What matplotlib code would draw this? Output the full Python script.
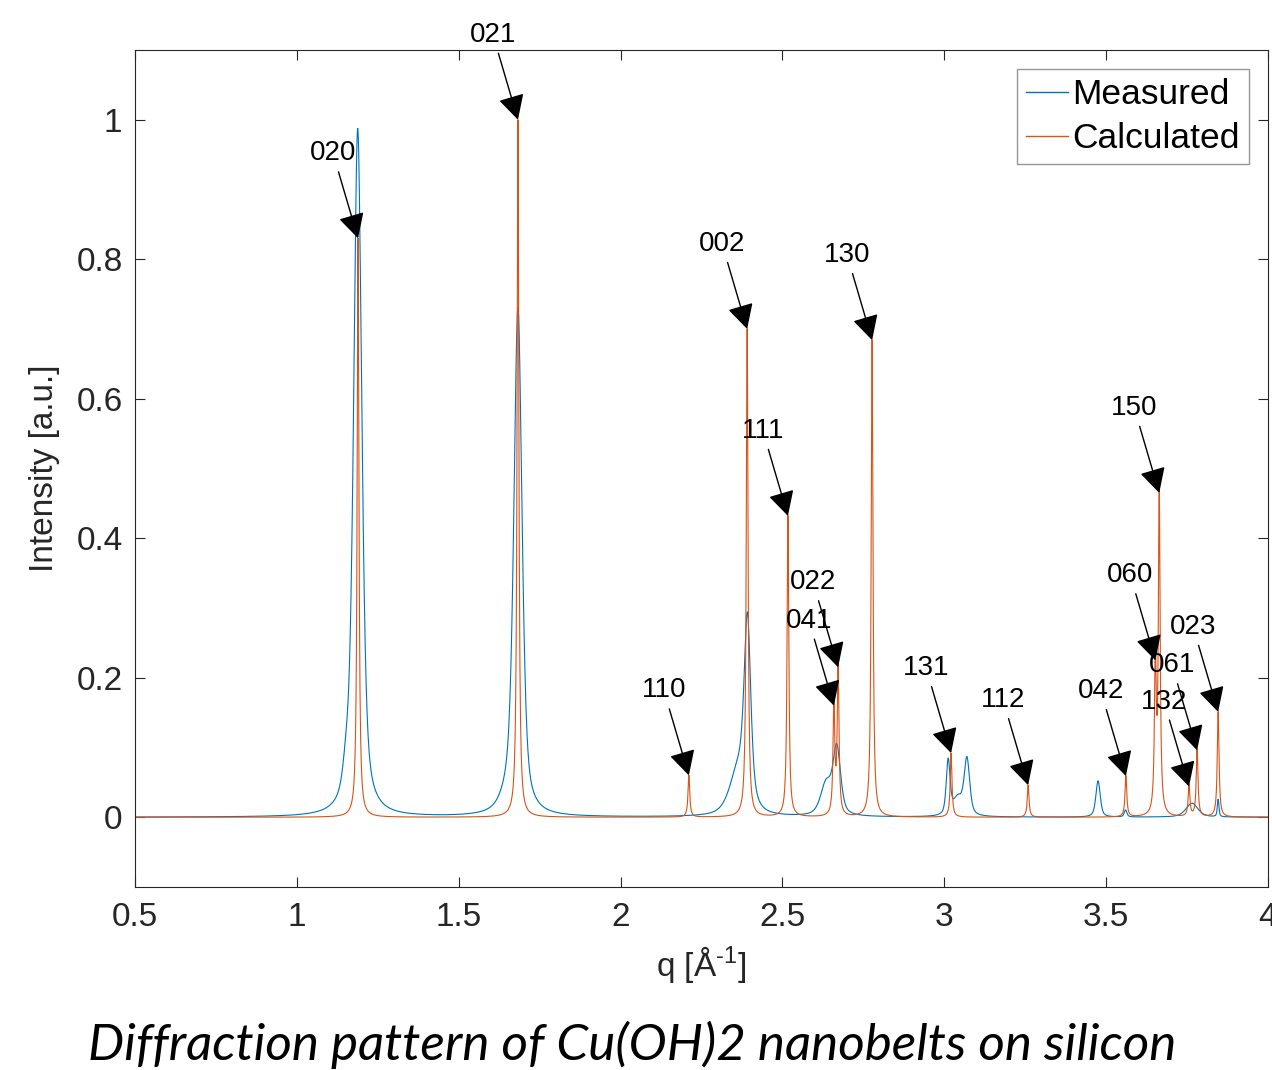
import numpy as np
import matplotlib
matplotlib.use('Agg')
import matplotlib.pyplot as plt

# ---------------- data ----------------
# calculated reflections: Miller indices, position q [1/A], relative intensity
hkl    = ['020', '021', '110', '002', '111', '041', '022', '130',
          '131', '112', '042', '060', '150', '132', '061', '023']
calc_q = [1.189, 1.683, 2.211, 2.391, 2.517, 2.659, 2.672, 2.777,
          3.021, 3.259, 3.561, 3.652, 3.664, 3.756, 3.781, 3.846]
calc_I = [0.83, 1.00, 0.060, 0.700, 0.432, 0.160, 0.215, 0.684,
          0.092, 0.046, 0.059, 0.225, 0.465, 0.044, 0.096, 0.151]
calc_hwhm = 0.0032

# measured pattern: peak position, height, half width
meas_q = [1.152, 1.188, 1.650, 1.683, 2.365, 2.392, 2.635, 2.668,
          3.012, 3.042, 3.070, 3.475, 3.560, 3.765, 3.846]
meas_I = [0.035, 0.985, 0.015, 0.725, 0.065, 0.255, 0.045, 0.095,
          0.078, 0.025, 0.080, 0.052, 0.010, 0.020, 0.025]
meas_w = [0.012, 0.015, 0.025, 0.015, 0.032, 0.012, 0.020, 0.014,
          0.007, 0.018, 0.010, 0.008, 0.005, 0.022, 0.003]

xticks = [0.5, 1, 1.5, 2, 2.5, 3, 3.5, 4]
xtick_labels = ['0.5', '1', '1.5', '2', '2.5', '3', '3.5', '4']
yticks = [0, 0.2, 0.4, 0.6, 0.8, 1]
ytick_labels = ['0', '0.2', '0.4', '0.6', '0.8', '1']

# ---------------- profiles ----------------
q = np.linspace(0.5, 4.0, 3501)

def lorentz(x, x0, h, w):
    return h / (1.0 + ((x - x0) / w) ** 2)

def pvoigt(x, x0, h, w, eta=0.55):
    g = np.exp(-np.log(2) * ((x - x0) / w) ** 2)
    return h * (eta / (1.0 + ((x - x0) / w) ** 2) + (1 - eta) * g)

calc = np.zeros_like(q)
for x0, h in zip(calc_q, calc_I):
    calc += lorentz(q, x0, h, calc_hwhm)

meas = np.zeros_like(q)
for x0, h, w in zip(meas_q, meas_I, meas_w):
    meas += pvoigt(q, x0, h, w)

# ---------------- figure ----------------
W, H = 1272, 1070
fig = plt.figure(figsize=(W / 100, H / 100), dpi=100)
plt.rcParams['font.family'] = ['Liberation Sans', 'DejaVu Sans']
plt.rcParams['mathtext.fontset'] = 'custom'
plt.rcParams['mathtext.rm'] = 'Liberation Sans'

ax = fig.add_axes([135 / W, (H - 887) / H, (1268 - 135) / W, (887 - 50) / H])

blue = '#0072BD'
orange = '#D95319'
ax.plot(q, meas, color=blue, lw=0.8, label='Measured')
ax.plot(q, calc, color=orange, lw=0.8, label='Calculated')

ax.set_xlim(0.5, 4)
ax.set_ylim(-0.1, 1.1)
ax.set_xticks(xticks)
ax.set_xticklabels(xtick_labels)
ax.set_yticks(yticks)
ax.set_yticklabels(ytick_labels)

dark = '#262626'
for s in ax.spines.values():
    s.set_color(dark)
    s.set_linewidth(0.8)
ax.tick_params(direction='in', length=7, width=0.8, color=dark,
               labelsize=24, labelcolor=dark, top=True, right=True)
ax.tick_params(axis='x', pad=11)
ax.tick_params(axis='y', pad=9)

ax.set_xlabel('q [Å$^{\\text{-1}}$]', fontsize=24, color=dark, labelpad=8)
ax.set_ylabel('Intensity [a.u.]', fontsize=24, color=dark, labelpad=12)

for lab, x0, h in zip(hkl, calc_q, calc_I):
    ax.annotate(lab, xy=(x0, h), xytext=(-25, 85), textcoords='offset pixels',
                ha='center', va='center', fontsize=20, color='black',
                arrowprops=dict(arrowstyle='-|>,head_length=0.85,head_width=0.45',
                                mutation_scale=18, color='black', lw=1.0,
                                shrinkA=2, shrinkB=0))

leg = ax.legend(loc='upper right', fontsize=25.5, frameon=True, fancybox=False,
                borderaxespad=0.55, handlelength=1.2, handletextpad=0.12,
                labelspacing=0.32, borderpad=0.24)
leg.get_frame().set_edgecolor('#7f7f7f')
leg.get_frame().set_linewidth(1.0)
for l in leg.get_lines():
    l.set_linewidth(1.0)

fig.text((90 + 1175) / 2 / W, 1 - 1045 / H,
         'Diffraction pattern of Cu(OH)2 nanobelts on silicon',
         family=['Lato', 'DejaVu Sans'], style='italic', fontsize=36.8,
         ha='center', va='center', color='black')

fig.savefig('out.png', dpi=100, facecolor='white')
